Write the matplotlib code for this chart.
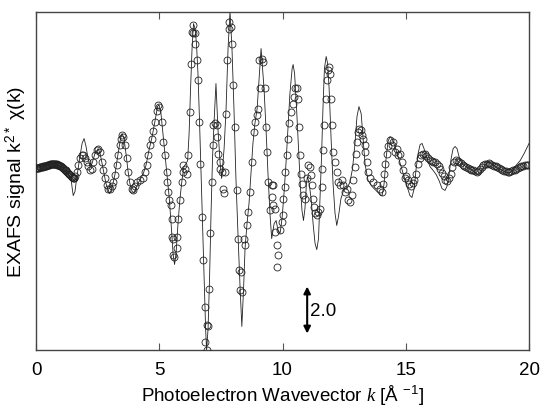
import matplotlib
matplotlib.use('Agg')
import matplotlib.pyplot as plt

plt.rcParams['font.family'] = ['Liberation Sans', 'DejaVu Sans']
plt.rcParams['mathtext.fontset'] = 'custom'
plt.rcParams['mathtext.rm'] = 'Liberation Sans'
plt.rcParams['mathtext.it'] = 'Liberation Serif:italic'

# theory (fit) curve
k_fit = [0.00, 0.37, 0.65, 0.89, 1.14, 1.30, 1.42, 1.47, 1.51, 1.58,
         1.66, 1.77, 1.87, 1.95, 2.03, 2.11, 2.19, 2.27, 2.39, 2.52,
         2.60, 2.72, 2.84, 2.98, 3.08, 3.21, 3.33, 3.43, 3.49, 3.57,
         3.65, 3.73, 3.81, 3.90, 3.98, 4.10, 4.22, 4.34, 4.46, 4.58,
         4.71, 4.83, 4.93, 4.99, 5.07, 5.15, 5.23, 5.31, 5.40, 5.48,
         5.56, 5.62, 5.68, 5.76, 5.84, 5.92, 6.00, 6.09, 6.15, 6.21,
         6.27, 6.33, 6.39, 6.45, 6.51, 6.57, 6.63, 6.69, 6.76, 6.82,
         6.88, 6.92, 6.98, 7.04, 7.10, 7.16, 7.22, 7.30, 7.38, 7.47,
         7.53, 7.63, 7.71, 7.79, 7.87, 7.95, 8.03, 8.11, 8.20, 8.28,
         8.35, 8.42, 8.48, 8.56, 8.64, 8.72, 8.80, 8.88, 8.97, 9.05,
         9.13, 9.25, 9.33, 9.41, 9.49, 9.56, 9.66, 9.74, 9.82, 9.90,
         9.98, 10.06, 10.14, 10.22, 10.30, 10.39, 10.43, 10.49, 10.57, 10.65,
         10.73, 10.79, 10.85, 10.91, 10.97, 11.01, 11.08, 11.16, 11.24, 11.32,
         11.39, 11.46, 11.52, 11.58, 11.64, 11.70, 11.77, 11.83, 11.89, 11.97,
         12.05, 12.13, 12.20, 12.27, 12.37, 12.50, 12.62, 12.74, 12.84, 12.94,
         13.02, 13.10, 13.19, 13.27, 13.35, 13.47, 13.63, 13.79, 13.96, 14.04,
         14.12, 14.20, 14.28, 14.36, 14.44, 14.56, 14.69, 14.81, 14.93, 15.05,
         15.17, 15.25, 15.34, 15.42, 15.50, 15.58, 15.66, 15.74, 15.86, 15.98,
         16.11, 16.23, 16.35, 16.47, 16.59, 16.67, 16.76, 16.84, 16.92, 17.00,
         17.08, 17.16, 17.28, 17.44, 17.61, 17.77, 17.93, 18.05, 18.17, 18.30,
         18.42, 18.58, 18.74, 18.91, 19.07, 19.23, 19.35, 19.47, 19.64, 19.80,
         20.00]
chi_fit = [0.06, 0.15, 0.23, 0.19, 0.02, -0.19, -0.40, -0.83, -1.13, -0.96,
           -0.32, 0.45, 1.09, 1.30, 0.96, 0.45, 0.11, 0.23, 0.66, 0.87,
           0.66, 0.02, -0.62, -1.04, -0.83, -0.19, 0.66, 1.30, 1.51, 1.30,
           0.66, -0.06, -0.62, -0.96, -1.00, -0.70, -0.45, -0.23, 0.15, 0.79,
           1.38, 2.06, 2.66, 2.74, 2.36, 1.51, 0.66, -0.19, -1.17, -2.32,
           -3.60, -4.06, -3.60, -2.32, -1.26, -0.49, 0.11, 0.23, 0.36, 1.51,
           3.43, 5.13, 6.19, 5.98, 5.34, 4.06, 2.15, 0.02, -2.32, -4.66,
           -6.79, -7.72, -6.79, -4.66, -1.89, 0.45, 1.94, 3.64, 1.72, 0.23,
           -0.40, 0.87, 2.57, 5.13, 6.70, 5.13, 2.57, -0.40, -2.96, -5.09,
           -6.70, -5.09, -3.38, -2.32, -1.47, -0.19, 1.09, 1.94, 2.57, 3.85,
           5.13, 3.43, 1.72, -0.19, -1.89, -2.96, -2.32, -2.19, -2.62, -2.74,
           -2.11, -1.04, 0.23, 1.72, 3.21, 4.28, 4.45, 4.06, 2.57, 0.87,
           -0.83, -1.77, -2.19, -1.68, -0.62, -0.32, -0.62, -1.26, -2.32, -3.17,
           -3.43, -2.96, -1.26, 0.45, 2.57, 4.28, 4.79, 4.49, 3.43, 1.30,
           -0.62, -1.89, -2.40, -2.02, -1.26, -0.83, -0.83, -0.53, 0.02, 1.09,
           2.23, 2.66, 2.36, 1.30, 0.19, -0.49, -0.74, -0.91, -1.09, -1.13,
           -0.62, 0.45, 1.17, 1.38, 1.30, 0.96, 0.53, 0.11, -0.32, -0.74,
           -1.13, -1.21, -0.83, 0.02, 0.66, 1.04, 1.09, 0.87, 0.45, 0.11,
           -0.06, -0.23, -0.49, -0.83, -0.91, -0.74, -0.19, 0.45, 0.87, 0.96,
           0.87, 0.53, 0.23, 0.11, 0.02, -0.11, -0.23, -0.15, 0.11, 0.28,
           0.28, 0.15, 0.02, -0.06, -0.15, -0.15, -0.06, 0.15, 0.36, 0.66,
           1.09]

# measured data (open circles)
k_data = [0.00, 0.03, 0.06, 0.09, 0.12, 0.15, 0.18, 0.21, 0.24, 0.27,
          0.30, 0.33, 0.36, 0.39, 0.42, 0.45, 0.48, 0.51, 0.54, 0.57,
          0.60, 0.63, 0.66, 0.69, 0.72, 0.75, 0.78, 0.81, 0.84, 0.87,
          0.90, 0.93, 0.96, 0.99, 1.02, 1.05, 1.08, 1.11, 1.14, 1.17,
          1.20, 1.23, 1.26, 1.29, 1.32, 1.35, 1.38, 1.41, 1.44, 1.47,
          1.50, 1.53, 1.56, 1.60,
          1.65, 1.72, 1.78, 1.85, 1.92, 1.99, 2.06, 2.12, 2.19, 2.26,
          2.32, 2.39, 2.46, 2.53, 2.60, 2.67, 2.73, 2.80, 2.87, 2.93,
          3.00, 3.07, 3.14, 3.20, 3.27, 3.34, 3.41, 3.44, 3.48, 3.54,
          3.61, 3.68, 3.74, 3.81, 3.88, 3.95, 4.02, 4.09, 4.22, 4.35,
          4.42, 4.49, 4.56, 4.62, 4.69, 4.76, 4.83, 4.90, 4.94, 4.99,
          5.10, 5.16, 5.23, 5.30, 5.33, 5.37, 5.41, 5.46, 5.51, 5.51,
          5.57, 5.55, 5.61, 5.71, 5.71, 5.77, 5.84, 5.91, 5.95, 5.98,
          6.04, 6.11, 6.18, 6.25, 6.29, 6.32, 6.36, 6.38, 6.45, 6.45,
          6.52, 6.56, 6.62, 6.65, 6.72, 6.79, 6.86, 6.92, 6.86, 6.92,
          6.99, 7.03, 7.06, 7.13, 7.17, 7.19, 7.26, 7.33, 7.33, 7.40,
          7.46, 7.46, 7.53, 7.67, 7.60, 7.64, 7.71, 7.76, 7.83, 7.84,
          7.90, 7.94, 8.00, 8.07, 8.14, 8.18, 8.24, 8.30, 8.28, 8.35,
          8.45, 8.48, 8.55, 8.61, 8.68, 8.75, 8.84, 8.88, 8.95, 9.02,
          9.09, 9.06, 9.16, 9.20, 9.29, 9.33, 9.38, 9.42, 9.56, 9.63,
          9.56, 9.63, 9.49, 9.70, 9.70, 9.76, 9.83, 9.79, 9.90, 9.97,
          10.03, 10.03, 10.10, 10.10, 10.17, 10.24, 10.28, 10.33, 10.41, 10.47,
          10.51, 10.58, 10.64, 10.68, 10.71, 10.74, 10.78, 10.84, 10.91, 10.98,
          11.05, 11.12, 11.14, 11.18, 11.25, 11.28, 11.32, 11.39, 11.45, 11.52,
          11.59, 11.59, 11.66, 11.70, 11.76, 11.82, 11.86, 11.90, 11.93, 11.97,
          11.99, 12.06, 12.13, 12.20, 12.26, 12.33, 12.40, 12.47, 12.54, 12.60,
          12.67, 12.74, 12.81, 12.87, 12.94, 12.98, 13.04, 13.08, 13.12, 13.17,
          13.21, 13.28, 13.35, 13.35, 13.41, 13.48, 13.55, 13.68, 13.82, 13.96,
          14.02, 14.09, 14.12, 14.16, 14.23, 14.29, 14.36, 14.43, 14.48, 14.56,
          14.63, 14.70, 14.77, 14.84, 14.90, 14.97,
          15.00, 15.07, 15.14, 15.21, 15.28, 15.35, 15.42, 15.49, 15.56, 15.63,
          15.70, 15.77, 15.84, 15.91, 15.98, 16.05, 16.12, 16.19, 16.26, 16.33,
          16.40, 16.47, 16.54, 16.61, 16.68, 16.75, 16.82, 16.89, 16.96, 17.03,
          17.10, 17.17, 17.24, 17.31, 17.38, 17.45, 17.52, 17.59, 17.66, 17.73,
          17.80, 17.87, 17.94, 18.01, 18.08, 18.15, 18.22, 18.29, 18.36, 18.43,
          18.50, 18.57, 18.64, 18.71, 18.78, 18.85, 18.92, 18.99, 19.06, 19.13,
          19.20, 19.27, 19.34, 19.41, 19.48, 19.55, 19.62, 19.69, 19.76, 19.83,
          19.90, 19.97]
chi_data = [0.04, 0.04, 0.05, 0.05, 0.06, 0.07, 0.08, 0.08, 0.09, 0.10,
            0.11, 0.12, 0.13, 0.14, 0.15, 0.16, 0.17, 0.18, 0.19, 0.20,
            0.20, 0.21, 0.21, 0.21, 0.21, 0.21, 0.21, 0.21, 0.20, 0.19,
            0.18, 0.17, 0.15, 0.13, 0.11, 0.09, 0.06, 0.04, 0.01, -0.02,
            -0.05, -0.09, -0.12, -0.16, -0.19, -0.23, -0.26, -0.29, -0.32, -0.35,
            -0.37, -0.39, -0.40, -0.30,
            -0.11, 0.16, 0.45, 0.59, 0.59, 0.45, 0.32, 0.11, -0.05, 0.02,
            0.32, 0.59, 0.80, 0.87, 0.74, 0.32, -0.05, -0.40, -0.69, -0.83,
            -0.83, -0.74, -0.53, -0.26, 0.16, 0.59, 1.01, 1.30, 1.47, 1.38,
            1.01, 0.45, -0.11, -0.53, -0.83, -0.90, -0.74, -0.53, -0.48, -0.40,
            -0.11, 0.16, 0.59, 1.01, 1.30, 1.60, 2.02, 2.45, 2.71, 2.66,
            2.01, 1.16, 0.59, -0.12, -0.53, -0.97, -1.33, -1.54, -2.11, -2.89,
            -2.96, -3.67, -3.74, -3.38, -2.89, -2.11, -1.33, -0.54, -0.12, 0.16,
            0.02, -0.19, 0.59, 2.43, 4.49, 5.84, 5.77, 6.12, 5.77, 5.34,
            4.63, 3.78, 2.01, 0.23, -2.03, -3.88, -5.86, -6.65, -7.35, -7.71,
            -6.70, -5.09, -2.74, -0.54, 1.01, 1.86, 1.94, 1.86, 1.37, 0.66,
            0.31, 0.02, -0.12, -0.12, -0.83, -1.04, 2.36, 4.63, 5.98, 6.26,
            6.05, 5.34, 3.57, 1.80, -0.90, -2.96, -4.31, -4.37, -5.16, -5.23,
            -2.96, -3.24, -2.39, -1.82, -0.97, 0.31, 1.58, 2.01, 2.29, 2.57,
            3.43, 4.63, 4.70, 4.56, 3.43, 1.80, 0.73, -0.54, -0.69, -0.69,
            -1.18, -1.54, -1.75, -1.68, -2.66, -3.24, -3.67, -4.16, -2.60, -2.25,
            -1.97, -1.26, -0.76, -0.12, 0.59, 1.30, 1.94, 2.43, 2.79, 3.07,
            3.43, 3.43, 3.00, 1.80, 0.59, -0.19, -0.62, -1.11, -1.26, -0.40,
            0.16, 0.09, -0.26, -0.69, -1.26, -1.61, -1.89, -1.97, -1.82, -1.68,
            -0.76, 0.02, 0.80, 1.86, 3.00, 3.78, 4.20, 4.35, 4.06, 3.00,
            1.86, 0.73, 0.31, -0.12, -0.54, -0.69, -0.48, -0.69, -0.97, -0.83,
            -1.33, -1.40, -1.11, -0.48, 0.09, 0.66, 1.16, 1.58, 1.72, 1.65,
            1.44, 1.30, 1.01, 0.74, 0.32, -0.11, -0.40, -0.53, -0.69, -0.83,
            -0.96, -0.62, -0.19, 0.23, 0.66, 1.00, 1.23, 1.01, 1.17, 0.73,
            0.87, 0.59, 0.66, 0.32, -0.05, -0.40,
            -0.30, -0.45, -0.62, -0.72, -0.60, -0.45, -0.20, 0.20, 0.45, 0.60,
            0.66, 0.62, 0.55, 0.45, 0.38, 0.34, 0.32, 0.28, 0.22, 0.12,
            0.00, -0.15, -0.30, -0.45, -0.52, -0.40, -0.20, 0.10, 0.30, 0.38,
            0.36, 0.32, 0.26, 0.18, 0.12, 0.09, 0.05, 0.02, -0.02, -0.05,
            -0.10, -0.12, -0.08, 0.02, 0.10, 0.16, 0.20, 0.23, 0.24, 0.22,
            0.18, 0.15, 0.11, 0.08, 0.04, 0.00, -0.04, -0.07, -0.10, -0.12,
            -0.12, -0.10, -0.06, -0.02, 0.02, 0.05, 0.08, 0.12, 0.15, 0.16,
            0.16, 0.17]

x_ticks = [0, 5, 10, 15, 20]

fig = plt.figure(figsize=(5.43, 4.10), dpi=100)
ax = fig.add_axes([0.0663, 0.144, 0.908, 0.824])

ax.plot(k_fit, chi_fit, color='#222222', lw=0.6, zorder=2)
ax.plot(k_data, chi_data, linestyle='none', marker='o', markersize=5,
        markerfacecolor='none', markeredgecolor='#222222',
        markeredgewidth=0.6, zorder=3)

# scale bar
ax.annotate('', xy=(11.0, -7.0), xytext=(11.0, -5.0),
            arrowprops=dict(arrowstyle='<|-|>', color='black', lw=1.5,
                            mutation_scale=10, shrinkA=0, shrinkB=0))
ax.text(11.12, -6.0, '2.0', fontsize=13.5, ha='left', va='center')

ax.set_xlim(0, 20)
ax.set_ylim(-7.7, 6.68)
ax.set_xticks(x_ticks)
ax.set_yticks([])
ax.tick_params(axis='x', direction='in', top=True, length=5, width=0.8,
               labelsize=13.5, pad=8, color='#555555')
for s in ax.spines.values():
    s.set_color('#444444')
    s.set_linewidth(1.0)

ax.set_xlabel(r'Photoelectron Wavevector $\mathit{k}$ [Å $^{-1}$]', fontsize=13.5, labelpad=3)
ax.set_ylabel(r'EXAFS signal k$^{2*}$ χ(k)', fontsize=14, labelpad=5)

fig.savefig('out.png', dpi=100)
